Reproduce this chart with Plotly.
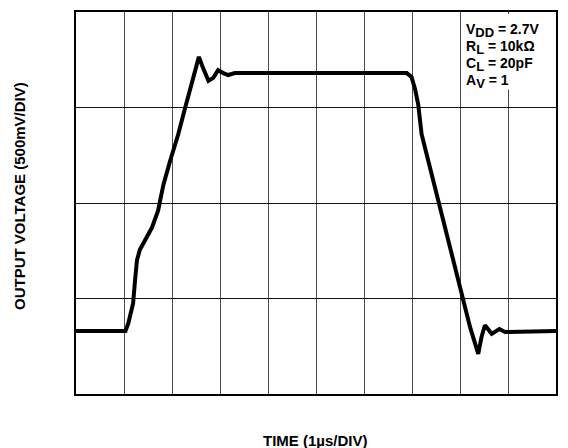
import plotly.graph_objects as go

# Trace (x in divisions of 1us, y in divisions of 500mV)
time_div = [0.0, 1.0, 1.03, 1.09, 1.19, 1.23, 1.27, 1.33, 1.45, 1.58, 1.71,
            1.82, 1.96, 2.13, 2.27, 2.375, 2.48, 2.56, 2.65, 2.76, 2.86, 2.96,
            3.07, 3.17, 3.31, 3.45, 6.89, 6.99, 7.06, 7.13, 7.20, 7.34, 7.48,
            7.62, 7.79, 8.04, 8.21, 8.38, 8.45, 8.52, 8.59, 8.66, 8.82, 8.94, 10.0]
volt_div = [0.66, 0.66, 0.66, 0.74, 0.95, 1.19, 1.40, 1.51, 1.62, 1.74, 1.92,
            2.19, 2.44, 2.72, 2.99, 3.20, 3.41, 3.53, 3.41, 3.28, 3.31, 3.39,
            3.36, 3.34, 3.36, 3.36, 3.36, 3.32, 3.20, 3.03, 2.72, 2.44, 2.16,
            1.85, 1.53, 1.00, 0.70, 0.42, 0.60, 0.72, 0.67, 0.63, 0.68, 0.65, 0.66]

x_title = "TIME (1µs/DIV)"
y_title = "OUTPUT VOLTAGE (500mV/DIV)"
cond_main = ["V", "R", "C", "A"]
cond_sub = ["DD", "L", "L", "V"]
cond_value = [" = 2.7V", " = 10kΩ", " = 20pF", " = 1"]

fig = go.Figure()
fig.add_trace(go.Scatter(x=time_div, y=volt_div, mode="lines",
                         line=dict(color="black", width=4),
                         hoverinfo="skip", showlegend=False))

L, R, T, B = 76, 12, 10, 54
W, H = 568, 448
pw, ph = W - L - R, H - T - B

fig.update_layout(
    width=W, height=H,
    margin=dict(l=L, r=R, t=T, b=B),
    paper_bgcolor="white", plot_bgcolor="white",
    font=dict(family="Liberation Sans, Arial, sans-serif", color="black"),
    xaxis=dict(range=[0, 10], dtick=1, tick0=0, showticklabels=False, ticks="",
               showgrid=True, gridcolor="#4a4a4a", gridwidth=1, zeroline=False,
               showline=True, linecolor="black", linewidth=2, mirror=True,
               fixedrange=True),
    yaxis=dict(range=[0, 4], dtick=1, tick0=0, showticklabels=False, ticks="",
               showgrid=True, gridcolor="#111111", gridwidth=1, zeroline=False,
               showline=True, linecolor="black", linewidth=2, mirror=True,
               fixedrange=True),
)

# white box behind the conditions text
fig.add_shape(type="rect", xref="x", yref="y", x0=8.1, x1=9.97,
              y0=(394 - 88) / 96, y1=(394 - 12) / 96,
              fillcolor="white", line=dict(width=0), layer="above")

row_top_px = [18, 35, 52, 69]
for m, s, v, ytop in zip(cond_main, cond_sub, cond_value, row_top_px):
    fig.add_annotation(xref="paper", yref="paper",
                       x=(465 - L) / pw, y=(394 - ytop) / ph,
                       xanchor="left", yanchor="top", align="left",
                       text="<b>" + m + "<sub><span style='font-size:13px'>" + s +
                            "</span></sub>" + v + "</b>",
                       showarrow=False, borderpad=0,
                       font=dict(size=14, color="black"))

fig.add_annotation(xref="paper", yref="paper",
                   x=(315 - L) / pw, y=(394 - 441) / ph,
                   xanchor="center", yanchor="middle",
                   text="<b>" + x_title + "</b>", showarrow=False,
                   font=dict(size=15, color="black"))

fig.add_annotation(xref="paper", yref="paper",
                   x=(19 - L) / pw, y=(394 - 195) / ph,
                   xanchor="center", yanchor="middle", textangle=-90,
                   text="<b>" + y_title + "</b>", showarrow=False,
                   font=dict(size=15, color="black"))

fig.write_html("out.html", config={"displayModeBar": False})
